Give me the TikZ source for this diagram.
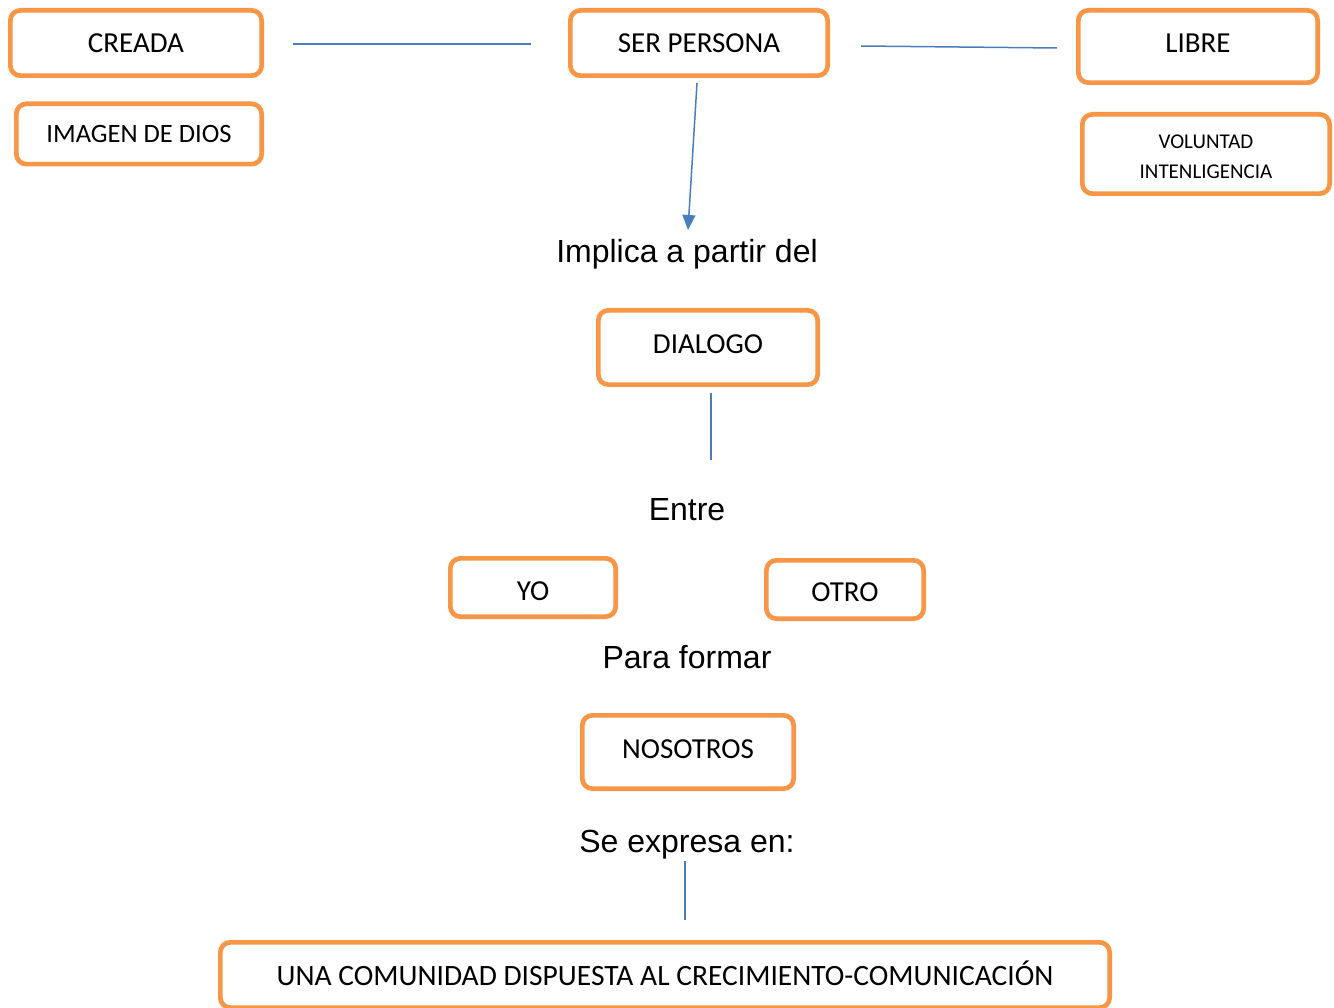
\documentclass[tikz,border=0pt]{standalone}
\usepackage{fontspec}
\setmainfont{Liberation Sans}
\newfontfamily\boxfont{Carlito}
\usetikzlibrary{arrows.meta}
\definecolor{boxorange}{HTML}{F79646}
\definecolor{lineblue}{HTML}{4A7EBB}
\newcommand\shifttext[2]{\raisebox{#1}[\height][\depth]{#2}}
\begin{document}
\begin{tikzpicture}[x=1pt,y=-1pt,
  cbox/.style={draw=boxorange, line width=4.7pt, rounded corners=10pt, fill=white,
    font=\boxfont\fontsize{29}{34}\selectfont, inner sep=0pt, align=center},
  sbox/.style={cbox, font=\boxfont\fontsize{21}{30}\selectfont},
  lbl/.style={font=\fontsize{32}{38}\selectfont, inner sep=0pt, anchor=base},
  conn/.style={draw=lineblue, line width=1.5pt}]
\useasboundingbox (0,0) rectangle (1334,1008);
% boxes
\node[cbox, minimum width=251.3pt, minimum height=65.3pt] (creada) at (136,43) {CREADA};
\node[cbox, minimum width=245.3pt, minimum height=60.3pt, font=\boxfont\fontsize{26.5}{32}\selectfont] (imagen) at (139,134) {IMAGEN DE DIOS};
\node[cbox, minimum width=257.3pt, minimum height=65.3pt] (ser) at (699,43) {SER PERSONA};
\node[cbox, minimum width=239.3pt, minimum height=72.3pt] (libre) at (1198,46.5) {\shifttext{3pt}{LIBRE}};
\node[sbox, minimum width=247.3pt, minimum height=79.3pt] (voluntad) at (1206,154) {\shifttext{-4pt}{\begin{tabular}{@{}c@{}}VOLUNTAD\\INTENLIGENCIA\end{tabular}}};
\node[cbox, minimum width=219.3pt, minimum height=74.3pt] (dialogo) at (708,347.5) {\shifttext{3pt}{DIALOGO}};
\node[cbox, minimum width=165.3pt, minimum height=58.3pt] (yo) at (533,587.5) {\shifttext{-4pt}{YO}};
\node[cbox, minimum width=157.3pt, minimum height=58.3pt] (otro) at (845,589.5) {\shifttext{-3pt}{OTRO}};
\node[cbox, minimum width=211.3pt, minimum height=73.3pt] (nosotros) at (688,752) {\shifttext{3pt}{NOSOTROS}};
\node[cbox, minimum width=889.3pt, minimum height=65.3pt, font=\boxfont\fontsize{29.5}{34}\selectfont] (comunidad) at (665,975) {\shifttext{2pt}{UNA COMUNIDAD DISPUESTA AL CRECIMIENTO-COMUNICACIÓN}};
% labels
\node[lbl] (implica) at (687,263) {Implica a partir del};
\node[lbl] (entre) at (687,520) {Entre};
\node[lbl] (para) at (687,668) {Para formar};
\node[lbl] (expresa) at (687,852) {Se expresa en:};
% connector end points
\coordinate (c1a) at (293,44);
\coordinate (c1b) at (531,44);
\coordinate (c2a) at (861,46);
\coordinate (c2b) at (1057,48);
\coordinate (c3a) at (697,83);
\coordinate (c3b) at (688,230);
\coordinate (c4a) at (711,393);
\coordinate (c4b) at (711,460);
\coordinate (c5a) at (685,861);
\coordinate (c5b) at (685,920);
% connectors
\draw[conn] (c1a) -- (c1b);
\draw[conn] (c2a) -- (c2b);
\draw[conn, -{Triangle[length=15pt,width=13pt]}] (c3a) -- (c3b);
\draw[conn] (c4a) -- (c4b);
\draw[conn] (c5a) -- (c5b);
\end{tikzpicture}
\end{document}
